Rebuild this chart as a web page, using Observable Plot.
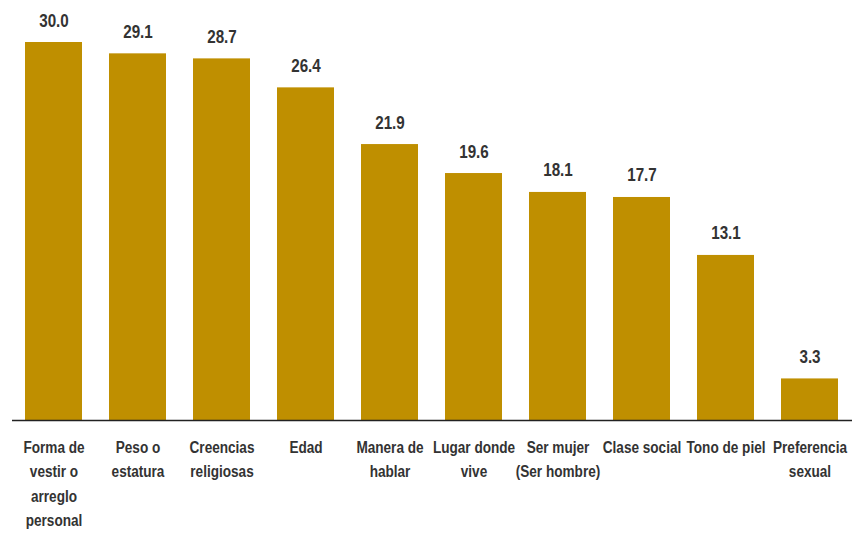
<!DOCTYPE html>
<html>
<head>
<meta charset="utf-8">
<script src="https://cdn.jsdelivr.net/npm/d3@7"></script>
<script src="https://cdn.jsdelivr.net/npm/@observablehq/plot@0.6"></script>
<style>
  html, body { margin: 0; padding: 0; background: #fff; }
  #chart svg { display: block; }
</style>
</head>
<body>
<div id="chart"></div>
<script>
const categories = [
  "Forma de\nvestir o\narreglo\npersonal",
  "Peso o\nestatura",
  "Creencias\nreligiosas",
  "Edad",
  "Manera de\nhablar",
  "Lugar donde\nvive",
  "Ser mujer\n(Ser hombre)",
  "Clase social",
  "Tono de piel",
  "Preferencia\nsexual"
];
const values = [30.0, 29.1, 28.7, 26.4, 21.9, 19.6, 18.1, 17.7, 13.1, 3.3];

const data = categories.map((c, i) => ({ cat: c, value: values[i] }));

const font = "'Liberation Sans', Arial, sans-serif";

const chart = Plot.plot({
  width: 854,
  height: 533,
  marginLeft: 12,
  marginRight: 2,
  marginTop: 42,
  marginBottom: 113,
  style: { fontFamily: font, background: "#fff" },
  x: { domain: categories, paddingInner: 0.32, paddingOuter: 0.16, axis: null },
  y: { domain: [0, 30], axis: null },
  marks: [
    Plot.barY(data, { x: "cat", y: "value", fill: "#BF8F00" }),
    Plot.ruleY([0], { stroke: "#222", strokeWidth: 1.6 }),
    Plot.text(data, {
      x: "cat", y: "value", text: d => d.value.toFixed(1),
      lineAnchor: "bottom", dy: -16, fontSize: 19, fontWeight: "bold", fill: "#333"
    }),
    Plot.text(data, {
      x: "cat", y: 0, text: "cat",
      lineAnchor: "top", dy: 15, fontSize: 17, fontWeight: "bold", fill: "#333", lineHeight: 1.44
    })
  ]
});
document.getElementById("chart").appendChild(chart);

// emulate a narrow (condensed) typeface by horizontally compressing each label
chart.querySelectorAll("g[aria-label='text'] text").forEach(t => {
  const tr = t.getAttribute("transform");
  if (tr) {
    t.setAttribute("transform", tr + " scale(0.8,1)");
  } else {
    const x = +t.getAttribute("x") || 0;
    t.setAttribute("transform", `translate(${x},0) scale(0.8,1) translate(${-x},0)`);
  }
});
</script>
</body>
</html>
